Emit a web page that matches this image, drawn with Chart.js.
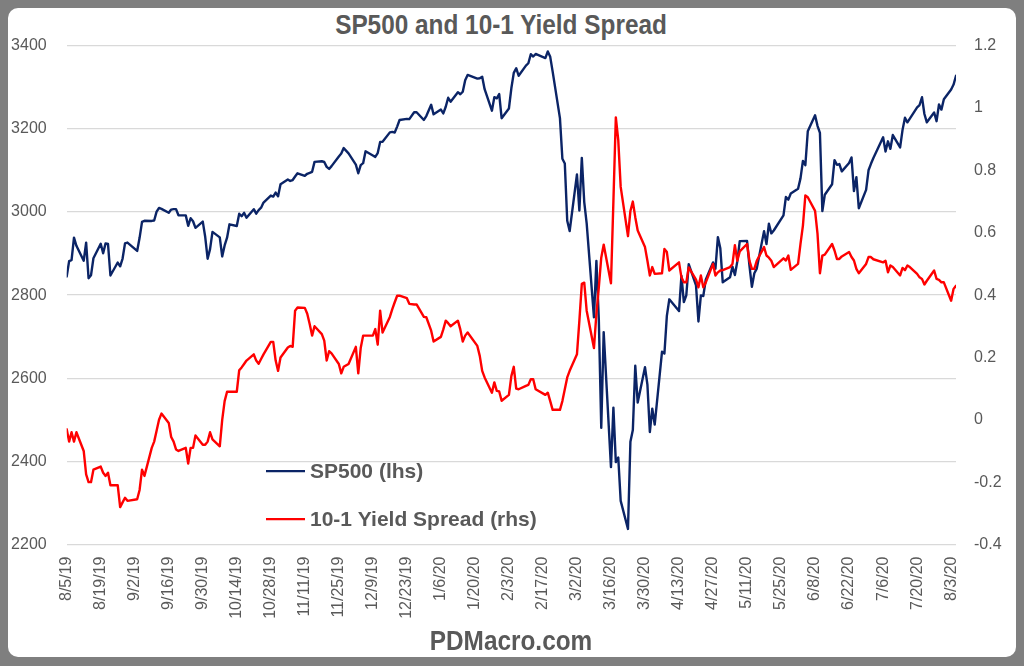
<!DOCTYPE html>
<html>
<head>
<meta charset="utf-8">
<script src="https://cdn.jsdelivr.net/npm/chart.js@4"></script>
<style>
  html, body { margin: 0; padding: 0; width: 1024px; height: 666px; overflow: hidden; background: #7f7f7f; }
  #frame { position: absolute; left: 8px; top: 8px; width: 1008px; height: 649px; background: #ffffff; border-radius: 10px; }
  #wrap { position: absolute; left: 0; top: 0; width: 1024px; height: 666px; }
  .heading { position: absolute; text-align: center; color: #595959; font-weight: bold; font-size: 28px; line-height: 28px;
             font-family: "Liberation Sans", Arial, sans-serif; white-space: nowrap;
             transform: scaleX(0.87); transform-origin: 50% 50%; }
  #title { left: 201px; width: 600px; top: 11px; }
  #footer { left: 261px; width: 500px; top: 627px; }
</style>
</head>
<body>
<div id="frame"></div>
<div id="title" class="heading">SP500 and 10-1 Yield Spread</div>
<div id="wrap"><canvas id="c"></canvas></div>
<div id="footer" class="heading">PDMacro.com</div>
<script>
// ---- data (trading days, M/D/YY) ----
const dates = [
 "8/5/19","8/6/19","8/7/19","8/8/19","8/9/19","8/12/19","8/13/19","8/14/19","8/15/19","8/16/19","8/19/19","8/20/19","8/21/19","8/22/19","8/23/19","8/26/19","8/27/19","8/28/19","8/29/19","8/30/19",
 "9/3/19","9/4/19","9/5/19","9/6/19","9/9/19","9/10/19","9/11/19","9/12/19","9/13/19","9/16/19","9/17/19","9/18/19","9/19/19","9/20/19","9/23/19","9/24/19","9/25/19","9/26/19","9/27/19","9/30/19",
 "10/1/19","10/2/19","10/3/19","10/4/19","10/7/19","10/8/19","10/9/19","10/10/19","10/11/19","10/14/19","10/15/19","10/16/19","10/17/19","10/18/19","10/21/19","10/22/19","10/23/19","10/24/19","10/25/19","10/28/19","10/29/19","10/30/19","10/31/19",
 "11/1/19","11/4/19","11/5/19","11/6/19","11/7/19","11/8/19","11/11/19","11/12/19","11/13/19","11/14/19","11/15/19","11/18/19","11/19/19","11/20/19","11/21/19","11/22/19","11/25/19","11/26/19","11/27/19","11/29/19",
 "12/2/19","12/3/19","12/4/19","12/5/19","12/6/19","12/9/19","12/10/19","12/11/19","12/12/19","12/13/19","12/16/19","12/17/19","12/18/19","12/19/19","12/20/19","12/23/19","12/24/19","12/26/19","12/27/19","12/30/19","12/31/19",
 "1/2/20","1/3/20","1/6/20","1/7/20","1/8/20","1/9/20","1/10/20","1/13/20","1/14/20","1/15/20","1/16/20","1/17/20","1/21/20","1/22/20","1/23/20","1/24/20","1/27/20","1/28/20","1/29/20","1/30/20","1/31/20",
 "2/3/20","2/4/20","2/5/20","2/6/20","2/7/20","2/10/20","2/11/20","2/12/20","2/13/20","2/14/20","2/18/20","2/19/20","2/20/20","2/21/20","2/24/20","2/25/20","2/26/20","2/27/20","2/28/20",
 "3/2/20","3/3/20","3/4/20","3/5/20","3/6/20","3/9/20","3/10/20","3/11/20","3/12/20","3/13/20","3/16/20","3/17/20","3/18/20","3/19/20","3/20/20","3/23/20","3/24/20","3/25/20","3/26/20","3/27/20","3/30/20","3/31/20",
 "4/1/20","4/2/20","4/3/20","4/6/20","4/7/20","4/8/20","4/9/20","4/13/20","4/14/20","4/15/20","4/16/20","4/17/20","4/20/20","4/21/20","4/22/20","4/23/20","4/24/20","4/27/20","4/28/20","4/29/20","4/30/20",
 "5/1/20","5/4/20","5/5/20","5/6/20","5/7/20","5/8/20","5/11/20","5/12/20","5/13/20","5/14/20","5/15/20","5/18/20","5/19/20","5/20/20","5/21/20","5/22/20","5/26/20","5/27/20","5/28/20","5/29/20",
 "6/1/20","6/2/20","6/3/20","6/4/20","6/5/20","6/8/20","6/9/20","6/10/20","6/11/20","6/12/20","6/15/20","6/16/20","6/17/20","6/18/20","6/19/20","6/22/20","6/23/20","6/24/20","6/25/20","6/26/20","6/29/20","6/30/20",
 "7/1/20","7/2/20","7/6/20","7/7/20","7/8/20","7/9/20","7/10/20","7/13/20","7/14/20","7/15/20","7/16/20","7/17/20","7/20/20","7/21/20","7/22/20","7/23/20","7/24/20","7/27/20","7/28/20","7/29/20","7/30/20","7/31/20",
 "8/3/20","8/4/20","8/5/20"
];

const sp500 = [
 2844.74,2881.77,2883.98,2938.09,2918.65,2882.70,2926.32,2840.60,2847.60,2888.68,2923.65,2900.51,2924.43,2922.95,2847.11,2878.38,2869.16,2887.94,2924.58,2926.46,
 2906.27,2937.78,2976.00,2978.71,2978.43,2979.39,3000.93,3009.57,3007.39,2997.96,3005.70,3006.73,3006.79,2992.07,2991.78,2966.60,2984.87,2977.62,2961.79,2976.74,
 2940.25,2887.61,2910.63,2952.01,2938.79,2893.06,2919.40,2938.13,2970.27,2966.15,2995.68,2989.69,2997.95,2986.20,3006.72,2995.99,3004.52,3010.29,3022.55,3039.42,3036.89,3046.77,3037.56,
 3066.91,3078.27,3074.62,3076.78,3085.18,3093.08,3087.01,3091.84,3094.04,3096.63,3120.46,3122.03,3120.18,3108.46,3103.54,3110.29,3133.64,3140.52,3153.63,3140.98,
 3113.87,3093.20,3112.76,3117.43,3145.91,3135.96,3132.52,3141.63,3168.57,3168.80,3191.45,3192.52,3191.14,3205.37,3221.22,3224.01,3223.38,3239.91,3240.02,3221.29,3230.78,
 3257.85,3234.85,3246.28,3237.18,3253.05,3274.70,3265.35,3288.13,3283.15,3289.29,3316.81,3329.62,3320.79,3321.75,3325.54,3295.47,3243.63,3276.24,3273.40,3283.66,3225.52,
 3248.92,3297.59,3334.69,3345.78,3327.71,3352.09,3357.75,3379.45,3373.94,3380.16,3370.29,3386.15,3373.23,3337.75,3225.89,3128.21,3116.39,2978.76,2954.22,
 3090.23,3003.37,3130.12,3023.94,2972.37,2746.56,2882.23,2741.38,2480.64,2711.02,2386.13,2529.19,2398.10,2409.39,2304.92,2237.40,2447.33,2475.56,2630.07,2541.47,2626.65,2584.59,
 2470.50,2526.90,2488.65,2663.68,2659.41,2749.98,2789.82,2761.63,2846.06,2783.36,2799.55,2874.56,2823.16,2736.56,2799.31,2797.80,2836.74,2878.48,2863.39,2939.51,2912.43,
 2830.71,2842.74,2868.44,2848.42,2881.19,2929.80,2930.32,2870.12,2820.00,2852.50,2863.70,2953.91,2922.94,2971.61,2948.51,2955.45,2991.77,3036.13,3029.73,3044.31,
 3055.73,3080.82,3122.87,3112.35,3193.93,3232.39,3207.18,3190.14,3002.10,3041.31,3066.59,3124.74,3113.49,3115.34,3097.74,3117.86,3131.29,3050.33,3083.76,3009.05,3053.24,3100.29,
 3115.86,3130.01,3179.72,3145.32,3169.94,3152.05,3185.04,3155.22,3197.52,3226.56,3215.57,3224.73,3251.84,3257.30,3276.02,3235.66,3215.63,3239.41,3218.44,3258.44,3246.22,3271.12,
 3294.61,3306.51,3327.77
];

const spread10y1y = [
 -0.03,-0.07,-0.04,-0.07,-0.04,-0.10,-0.175,-0.20,-0.20,-0.16,-0.15,-0.17,-0.18,-0.17,-0.21,-0.21,-0.28,-0.265,-0.25,-0.26,
 -0.255,-0.225,-0.16,-0.18,-0.09,-0.07,-0.035,0.0,0.02,-0.01,-0.055,-0.07,-0.095,-0.10,-0.09,-0.14,-0.09,-0.09,-0.05,-0.08,
 -0.08,-0.07,-0.04,-0.063,-0.085,0.0,0.06,0.09,0.09,0.09,0.159,0.168,0.179,0.19,0.21,0.19,0.18,0.195,0.21,0.25,0.25,0.19,0.157,
 0.20,0.232,0.237,0.234,0.35,0.36,0.359,0.34,0.307,0.27,0.30,0.275,0.254,0.19,0.22,0.213,0.179,0.149,0.17,0.179,
 0.234,0.149,0.23,0.27,0.27,0.27,0.291,0.241,0.35,0.28,0.33,0.355,0.377,0.398,0.398,0.39,0.372,0.37,0.37,0.33,0.329,
 0.286,0.251,0.266,0.29,0.318,0.31,0.30,0.318,0.29,0.251,0.27,0.28,0.237,0.205,0.157,0.136,0.087,0.12,0.093,0.091,0.061,
 0.08,0.14,0.17,0.10,0.098,0.109,0.112,0.13,0.13,0.098,0.08,0.087,0.06,0.032,0.032,0.06,0.098,0.136,0.157,
 0.21,0.318,0.436,0.44,0.35,0.23,0.34,0.425,0.52,0.562,0.438,0.70,0.97,0.897,0.747,0.589,0.67,0.70,0.65,0.607,0.554,0.51,
 0.463,0.49,0.468,0.47,0.548,0.538,0.479,0.505,0.457,0.441,0.441,0.489,0.45,0.425,0.463,0.425,0.44,0.50,0.463,0.473,0.479,
 0.48,0.49,0.50,0.56,0.51,0.54,0.564,0.51,0.484,0.484,0.51,0.554,0.527,0.52,0.51,0.49,0.518,0.511,0.527,0.481,
 0.50,0.564,0.623,0.72,0.714,0.67,0.597,0.47,0.527,0.53,0.564,0.543,0.516,0.516,0.524,0.538,0.522,0.511,0.484,0.47,0.50,0.522,
 0.522,0.515,0.505,0.51,0.473,0.495,0.49,0.463,0.487,0.48,0.495,0.49,0.468,0.457,0.452,0.434,0.446,0.479,0.452,0.449,0.441,0.441,
 0.382,0.42,0.43
];

const tickLabels = ["8/5/19","8/19/19","9/2/19","9/16/19","9/30/19","10/14/19","10/28/19","11/11/19","11/25/19","12/9/19","12/23/19",
 "1/6/20","1/20/20","2/3/20","2/17/20","3/2/20","3/16/20","3/30/20","4/13/20","4/27/20","5/11/20","5/25/20","6/8/20","6/22/20",
 "7/6/20","7/20/20","8/3/20"];

const seriesLabels = ["SP500 (lhs)", "10-1 Yield Spread (rhs)"];
const seriesColors = ["#0b2466", "#ff0000"];

// ---- helpers ----
function toUTC(s) { const p = s.split("/").map(Number); return Date.UTC(2000 + p[2], p[0] - 1, p[1]); }
const t0 = toUTC(dates[0]);
const dayOf = s => Math.round((toUTC(s) - t0) / 86400000);
const xDays = dates.map(dayOf);
const tickDays = tickLabels.map(dayOf);
const labelByDay = {}; tickLabels.forEach((l, i) => { labelByDay[tickDays[i]] = l; });

const TICK_FONT = { family: "'Liberation Sans', Arial, sans-serif", size: 16 };
const TICK_COLOR = "#595959";

const inlineLegend = {
  id: "inlineLegend",
  afterDraw(chart) {
    const ctx = chart.ctx;
    const rows = [471, 519];
    ctx.save();
    chart.data.datasets.forEach((ds) => {
      const y = rows[ds.legendRow];
      ctx.strokeStyle = ds.borderColor; ctx.lineWidth = 2.25; ctx.lineCap = "butt";
      ctx.beginPath(); ctx.moveTo(266, y); ctx.lineTo(305, y); ctx.stroke();
      ctx.fillStyle = "#595959";
      ctx.font = "bold 21px 'Liberation Sans', Arial, sans-serif";
      ctx.textAlign = "left"; ctx.textBaseline = "middle";
      ctx.fillText(ds.label, 310, y + 1);
    });
    ctx.restore();
  }
};

new Chart(document.getElementById("c"), {
  type: "line",
  data: {
    datasets: [
      { label: seriesLabels[0], legendRow: 0, data: sp500.map((v, i) => ({ x: xDays[i], y: v })), yAxisID: "y",
        borderColor: seriesColors[0], borderWidth: 2.4, pointRadius: 0, tension: 0, order: 2,
        borderJoinStyle: "round", borderCapStyle: "round" },
      { label: seriesLabels[1], legendRow: 1, data: spread10y1y.map((v, i) => ({ x: xDays[i], y: v })), yAxisID: "y1",
        borderColor: seriesColors[1], borderWidth: 2.4, pointRadius: 0, tension: 0, order: 1,
        borderJoinStyle: "round", borderCapStyle: "round" }
    ]
  },
  options: {
    responsive: true, maintainAspectRatio: false, animation: false, devicePixelRatio: 1,
    layout: { padding: { top: 45.7, left: 0, right: 0, bottom: 0 } },
    plugins: { legend: { display: false }, title: { display: false }, tooltip: { enabled: false } },
    scales: {
      x: {
        type: "linear", min: 0, max: xDays[xDays.length - 1],
        grid: { display: false, drawTicks: false }, border: { display: false },
        afterBuildTicks: s => { s.ticks = tickDays.map(v => ({ value: v })); },
        afterFit: s => { s.height = 121.5; },
        ticks: { minRotation: 90, maxRotation: 90, autoSkip: false, padding: 12, color: TICK_COLOR, font: TICK_FONT,
                 callback: v => labelByDay[Math.round(v)] || "" }
      },
      y: {
        position: "left", min: 2200, max: 3400,
        grid: { color: "#d9d9d9", lineWidth: 1.3, drawTicks: false }, border: { display: false },
        afterFit: s => { s.width = 66.7; },
        ticks: { stepSize: 200, padding: 20, color: TICK_COLOR, font: TICK_FONT, callback: v => String(v) }
      },
      y1: {
        position: "right", min: -0.4, max: 1.2,
        grid: { display: false, drawTicks: false }, border: { display: false },
        afterFit: s => { s.width = 68; },
        ticks: { stepSize: 0.2, padding: 18, color: TICK_COLOR, font: TICK_FONT, callback: v => String(+v.toFixed(1)) }
      }
    }
  },
  plugins: [inlineLegend]
});
</script>
</body>
</html>
